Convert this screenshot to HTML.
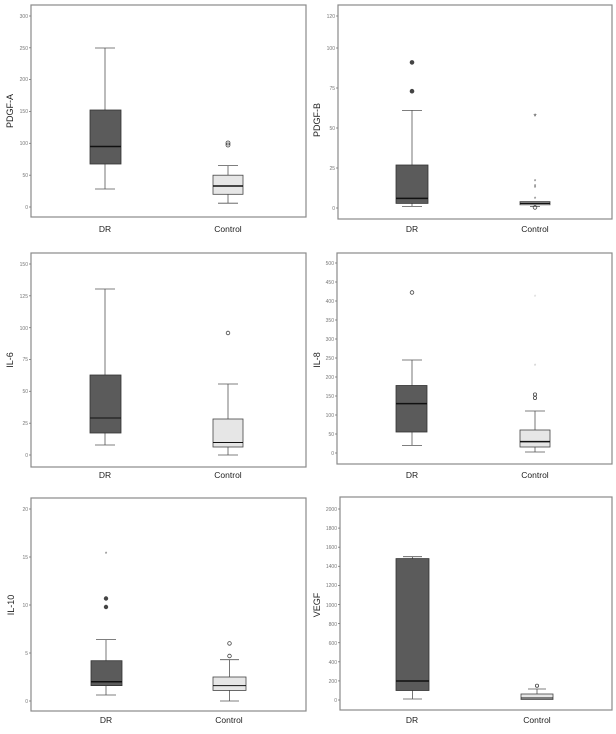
<!DOCTYPE html>
<html><head><meta charset="utf-8"><style>
html,body{margin:0;padding:0;background:#fff;}
svg{display:block;font-family:"Liberation Sans",sans-serif;}
.fr{fill:none;stroke:#8a8a8a;stroke-width:1.2}
.tk{fill:#777;font-size:5px;text-anchor:end}
.tl{stroke:#777;stroke-width:0.8}
.w{stroke:#555;stroke-width:0.8;fill:none}
.dr{fill:#5b5b5b;stroke:#333;stroke-width:0.8}
.ct{fill:#e6e6e6;stroke:#444;stroke-width:0.8}
.md{stroke:#111;stroke-width:1.5}
.xl{font-size:8.5px;fill:#222;text-anchor:middle}
.yl{font-size:9px;fill:#222;text-anchor:middle}
.oc{fill:none;stroke:#444;stroke-width:0.8}
.od{fill:#444}
.st{font-size:6px;fill:#555;text-anchor:middle}
</style></head><body>
<svg width="616" height="734" viewBox="0 0 616 734">
<!-- Panel 1 PDGF-A -->
<rect class="fr" x="31" y="5" width="275" height="212"/>
<g class="tl"><line x1="29" x2="31" y1="207" y2="207"/><line x1="29" x2="31" y1="175.2" y2="175.2"/><line x1="29" x2="31" y1="143.3" y2="143.3"/><line x1="29" x2="31" y1="111.5" y2="111.5"/><line x1="29" x2="31" y1="79.6" y2="79.6"/><line x1="29" x2="31" y1="47.8" y2="47.8"/><line x1="29" x2="31" y1="16" y2="16"/></g>
<g class="tk"><text x="28" y="209">0</text><text x="28" y="177">50</text><text x="28" y="145">100</text><text x="28" y="113">150</text><text x="28" y="81">200</text><text x="28" y="50">250</text><text x="28" y="18">300</text></g>
<text class="yl" transform="translate(13,111) rotate(-90)">PDGF-A</text>
<line class="w" x1="105" x2="105" y1="48" y2="189"/><line class="w" x1="95" x2="115" y1="48" y2="48"/><line class="w" x1="95" x2="115" y1="189" y2="189"/>
<rect class="dr" x="90" y="110" width="31" height="54"/><line class="md" x1="90" x2="121" y1="146.5" y2="146.5"/>
<line class="w" x1="228" x2="228" y1="165.6" y2="203.2"/><line class="w" x1="218" x2="238" y1="165.6" y2="165.6"/><line class="w" x1="218" x2="238" y1="203.2" y2="203.2"/>
<rect class="ct" x="213" y="175.2" width="30" height="19.1"/><line class="md" x1="213" x2="243" y1="186" y2="186"/>
<circle class="oc" cx="228" cy="143" r="2"/><circle class="oc" cx="228" cy="145" r="2"/>
<text class="xl" x="105" y="232">DR</text><text class="xl" x="228" y="232">Control</text>

<!-- Panel 2 PDGF-B -->
<rect class="fr" x="338" y="5" width="274" height="214"/>
<g class="tl"><line x1="336" x2="338" y1="208" y2="208"/><line x1="336" x2="338" y1="168" y2="168"/><line x1="336" x2="338" y1="128" y2="128"/><line x1="336" x2="338" y1="88" y2="88"/><line x1="336" x2="338" y1="48" y2="48"/><line x1="336" x2="338" y1="16" y2="16"/></g>
<g class="tk"><text x="335" y="210">0</text><text x="335" y="170">25</text><text x="335" y="130">50</text><text x="335" y="90">75</text><text x="335" y="50">100</text><text x="335" y="18">120</text></g>
<text class="yl" transform="translate(320,120) rotate(-90)">PDGF-B</text>
<line class="w" x1="412" x2="412" y1="110.4" y2="206.4"/><line class="w" x1="402" x2="422" y1="110.4" y2="110.4"/><line class="w" x1="402" x2="422" y1="206.4" y2="206.4"/>
<rect class="dr" x="396" y="165" width="32" height="38.4"/><line class="md" x1="396" x2="428" y1="198.4" y2="198.4"/>
<circle class="od" cx="412" cy="62.4" r="2.3"/><circle class="od" cx="412" cy="91.2" r="2.3"/>
<line class="w" x1="530" x2="540" y1="206.4" y2="206.4"/>
<rect class="ct" x="520" y="201.6" width="30" height="3.2"/><line class="md" x1="520" x2="550" y1="203.2" y2="203.2"/>
<text class="st" x="535" y="119.5" style="font-size:8px;fill:#333">*</text>
<text class="st" x="535" y="183.5">*</text><text class="st" x="535" y="188.3">*</text><text class="st" x="535" y="190">*</text><text class="st" x="535" y="201">*</text>
<circle class="oc" cx="535" cy="207.5" r="1.8"/>
<text class="xl" x="412" y="232">DR</text><text class="xl" x="535" y="232">Control</text>

<!-- Panel 3 IL-6 -->
<rect class="fr" x="31" y="253" width="275" height="214"/>
<g class="tl"><line x1="29" x2="31" y1="455" y2="455"/><line x1="29" x2="31" y1="423.2" y2="423.2"/><line x1="29" x2="31" y1="391.3" y2="391.3"/><line x1="29" x2="31" y1="359.5" y2="359.5"/><line x1="29" x2="31" y1="327.7" y2="327.7"/><line x1="29" x2="31" y1="295.8" y2="295.8"/><line x1="29" x2="31" y1="264" y2="264"/></g>
<g class="tk"><text x="28" y="457">0</text><text x="28" y="425">25</text><text x="28" y="393">50</text><text x="28" y="361">75</text><text x="28" y="330">100</text><text x="28" y="298">125</text><text x="28" y="266">150</text></g>
<text class="yl" transform="translate(13,360) rotate(-90)">IL-6</text>
<line class="w" x1="105" x2="105" y1="289" y2="445"/><line class="w" x1="95" x2="115" y1="289" y2="289"/><line class="w" x1="95" x2="115" y1="445" y2="445"/>
<rect class="dr" x="90" y="375" width="31" height="58"/><line class="md" x1="90" x2="121" y1="418" y2="418" style="stroke-width:1"/>
<line class="w" x1="228" x2="228" y1="384" y2="455"/><line class="w" x1="218" x2="238" y1="384" y2="384"/><line class="w" x1="218" x2="238" y1="455" y2="455"/>
<rect class="ct" x="213" y="419" width="30" height="28"/><line class="md" x1="213" x2="243" y1="442.5" y2="442.5" style="stroke-width:1"/>
<circle class="oc" cx="228" cy="333" r="1.8"/>
<text class="xl" x="105" y="478">DR</text><text class="xl" x="228" y="478">Control</text>

<!-- Panel 4 IL-8 -->
<rect class="fr" x="337" y="253" width="275" height="211"/>
<g class="tl"><line x1="335" x2="337" y1="453" y2="453"/><line x1="335" x2="337" y1="434" y2="434"/><line x1="335" x2="337" y1="415" y2="415"/><line x1="335" x2="337" y1="396" y2="396"/><line x1="335" x2="337" y1="377" y2="377"/><line x1="335" x2="337" y1="358" y2="358"/><line x1="335" x2="337" y1="339" y2="339"/><line x1="335" x2="337" y1="320" y2="320"/><line x1="335" x2="337" y1="301" y2="301"/><line x1="335" x2="337" y1="282" y2="282"/><line x1="335" x2="337" y1="263" y2="263"/></g>
<g class="tk"><text x="334" y="455">0</text><text x="334" y="436">50</text><text x="334" y="417">100</text><text x="334" y="398">150</text><text x="334" y="379">200</text><text x="334" y="360">250</text><text x="334" y="341">300</text><text x="334" y="322">350</text><text x="334" y="303">400</text><text x="334" y="284">450</text><text x="334" y="265">500</text></g>
<text class="yl" transform="translate(320,360) rotate(-90)">IL-8</text>
<line class="w" x1="412" x2="412" y1="360" y2="445.4"/><line class="w" x1="402" x2="422" y1="360" y2="360"/><line class="w" x1="402" x2="422" y1="445.4" y2="445.4"/>
<rect class="dr" x="396" y="385.5" width="31" height="46.5"/><line class="md" x1="396" x2="427" y1="403.6" y2="403.6"/>
<circle class="oc" cx="412" cy="292.5" r="1.8"/>
<line class="w" x1="535" x2="535" y1="411" y2="452"/><line class="w" x1="525" x2="545" y1="411" y2="411"/><line class="w" x1="525" x2="545" y1="452" y2="452"/>
<rect class="ct" x="520" y="430" width="30" height="17"/><line class="md" x1="520" x2="550" y1="441.6" y2="441.6"/>
<circle class="oc" cx="535" cy="394.5" r="1.6"/><circle class="oc" cx="535" cy="398" r="1.6"/>
<text class="st" x="535" y="368" style="fill:#bbb">*</text><text class="st" x="535" y="299" style="fill:#ccc">*</text>
<text class="xl" x="412" y="478">DR</text><text class="xl" x="535" y="478">Control</text>

<!-- Panel 5 IL-10 -->
<rect class="fr" x="31" y="498" width="275" height="213"/>
<g class="tl"><line x1="29" x2="31" y1="701" y2="701"/><line x1="29" x2="31" y1="653" y2="653"/><line x1="29" x2="31" y1="605" y2="605"/><line x1="29" x2="31" y1="557" y2="557"/><line x1="29" x2="31" y1="509" y2="509"/></g>
<g class="tk"><text x="28" y="703">0</text><text x="28" y="655">5</text><text x="28" y="607">10</text><text x="28" y="559">15</text><text x="28" y="511">20</text></g>
<text class="yl" transform="translate(14,605) rotate(-90)">IL-10</text>
<line class="w" x1="106" x2="106" y1="639.6" y2="695"/><line class="w" x1="96" x2="116" y1="639.6" y2="639.6"/><line class="w" x1="96" x2="116" y1="695" y2="695"/>
<rect class="dr" x="91" y="660.7" width="31" height="24.9"/><line class="md" x1="91" x2="122" y1="681.8" y2="681.8"/>
<circle class="od" cx="106" cy="598.5" r="2.2"/><circle class="od" cx="106" cy="607" r="2.2"/>
<text class="st" x="106" y="556">*</text>
<line class="w" x1="229.5" x2="229.5" y1="659.7" y2="701"/><line class="w" x1="220" x2="239" y1="659.7" y2="659.7"/><line class="w" x1="220" x2="239" y1="701" y2="701"/>
<rect class="ct" x="213" y="677" width="33" height="13.4"/><line class="md" x1="213" x2="246" y1="685.6" y2="685.6" style="stroke-width:1"/>
<circle class="oc" cx="229.5" cy="643.4" r="1.8"/><circle class="oc" cx="229.5" cy="656" r="1.8"/>
<text class="xl" x="106" y="723">DR</text><text class="xl" x="229" y="723">Control</text>

<!-- Panel 6 VEGF -->
<rect class="fr" x="340" y="497" width="272" height="213"/>
<g class="tl"><line x1="338" x2="340" y1="700" y2="700"/><line x1="338" x2="340" y1="680.9" y2="680.9"/><line x1="338" x2="340" y1="661.8" y2="661.8"/><line x1="338" x2="340" y1="642.7" y2="642.7"/><line x1="338" x2="340" y1="623.6" y2="623.6"/><line x1="338" x2="340" y1="604.5" y2="604.5"/><line x1="338" x2="340" y1="585.4" y2="585.4"/><line x1="338" x2="340" y1="566.3" y2="566.3"/><line x1="338" x2="340" y1="547.2" y2="547.2"/><line x1="338" x2="340" y1="528.1" y2="528.1"/><line x1="338" x2="340" y1="509" y2="509"/></g>
<g class="tk"><text x="337" y="702">0</text><text x="337" y="683">200</text><text x="337" y="664">400</text><text x="337" y="645">600</text><text x="337" y="626">800</text><text x="337" y="607">1000</text><text x="337" y="587">1200</text><text x="337" y="568">1400</text><text x="337" y="549">1600</text><text x="337" y="530">1800</text><text x="337" y="511">2000</text></g>
<text class="yl" transform="translate(320,605) rotate(-90)">VEGF</text>
<line class="w" x1="412.5" x2="412.5" y1="556.7" y2="699"/><line class="w" x1="403" x2="422" y1="556.7" y2="556.7"/><line class="w" x1="403" x2="422" y1="699" y2="699"/>
<rect class="dr" x="396" y="558.6" width="33" height="131.9"/><line class="md" x1="396" x2="429" y1="681" y2="681"/>
<line class="w" x1="537" x2="537" y1="689" y2="699.5"/><line class="w" x1="528" x2="546" y1="689" y2="689"/>
<rect class="ct" x="521" y="694" width="32" height="5.5"/><line class="md" x1="521" x2="553" y1="698" y2="698" style="stroke-width:1"/>
<circle class="oc" cx="537" cy="685.7" r="1.6"/>
<text class="xl" x="412" y="723">DR</text><text class="xl" x="537" y="723">Control</text>
</svg>
</body></html>
